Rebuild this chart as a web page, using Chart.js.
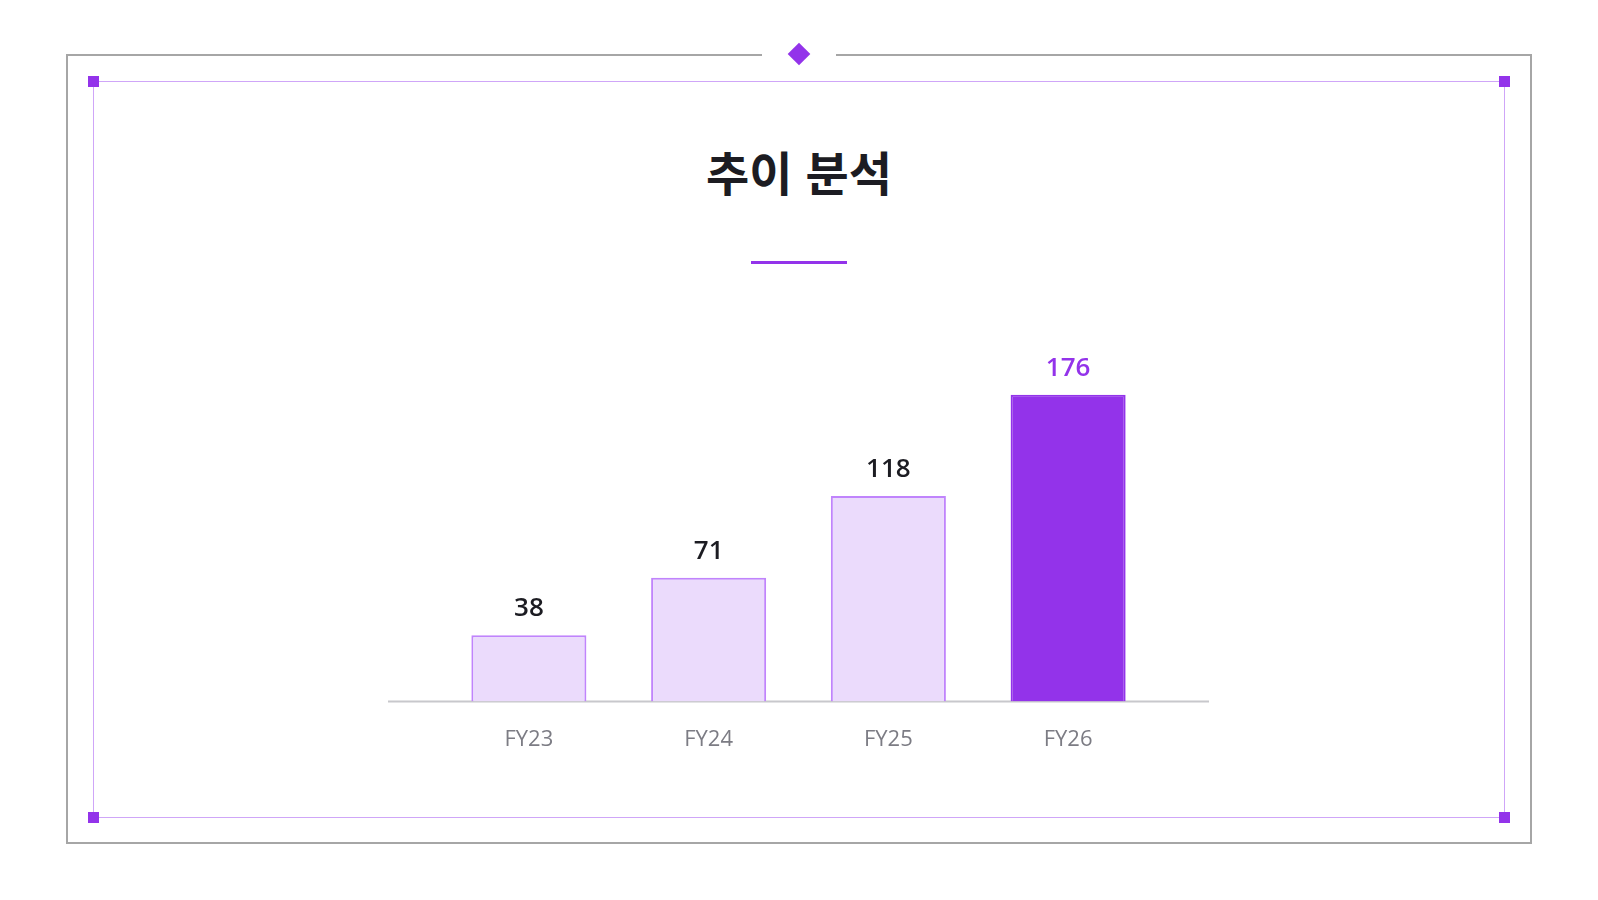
<!DOCTYPE html>
<html lang="ko">
<head>
  <meta charset="UTF-8">
  <title>추이 분석</title>
  <style>
    body { margin: 0; background: #fff; font-family: "Noto Sans CJK KR", "Noto Sans", sans-serif; }
    #page { position: relative; width: 1598px; height: 900px; overflow: hidden; }
    .frame { position: absolute; left: 66px; top: 54px; width: 1462px; height: 786px; border: 2px solid #a6a6a6; }
    .inner { position: absolute; left: 93px; top: 81px; width: 1410px; height: 735px; border: 1px solid #cfa6f8; }
    .corner { position: absolute; width: 11px; height: 11px; background: #9333ea; }
    .gap { position: absolute; left: 762px; top: 50px; width: 74px; height: 10px; background: #fff; }
    .diamond { position: absolute; left: 791px; top: 46px; width: 16px; height: 16px; background: #9333ea; transform: rotate(45deg); }
    h1 { position: absolute; left: 0; top: 147px; width: 1598px; margin: 0; text-align: center;
         font-size: 47px; line-height: 47px; font-weight: 700; color: #1c1c22; }
    .accent { position: absolute; left: 751px; top: 261px; width: 96px; height: 3px; background: #9333ea; }
    #trend-chart { position: absolute; left: 0; top: 0; }
  </style>
</head>
<body>
  <div id="page">
    <div class="frame"></div>
    <div class="inner"></div>
    <div class="corner" style="left:88px;top:76px"></div>
    <div class="corner" style="left:1499px;top:76px"></div>
    <div class="corner" style="left:88px;top:812px"></div>
    <div class="corner" style="left:1499px;top:812px"></div>
    <div class="gap"></div>
    <div class="diamond"></div>
    <h1>추이 분석</h1>
    <div class="accent"></div>
    <canvas id="trend-chart" width="1598" height="900"></canvas>
  </div>

  <script src="https://cdn.jsdelivr.net/npm/chart.js"></script>
  <script>
    const years = ['FY23', 'FY24', 'FY25', 'FY26'];
    const values = [38, 71, 118, 176];
    const highlightIndex = 3;

    const purple = '#9333ea';
    const lightFill = '#ebdbfc';
    const lightBorder = '#c084fc';

    // baseline, a bit wider than the bars area
    const baseline = {
      id: 'baseline',
      beforeDatasetsDraw(chart) {
        const { ctx, chartArea } = chart;
        ctx.save();
        ctx.strokeStyle = '#c8c8cc';
        ctx.lineWidth = 2;
        ctx.beginPath();
        ctx.moveTo(chartArea.left - 51, chartArea.bottom);
        ctx.lineTo(chartArea.right + 51, chartArea.bottom);
        ctx.stroke();
        ctx.restore();
      }
    };

    // value labels above bars
    const valueLabels = {
      id: 'valueLabels',
      afterDatasetsDraw(chart) {
        const { ctx } = chart;
        const meta = chart.getDatasetMeta(0);
        ctx.save();
        ctx.font = '600 26px "Open Sans", "Noto Sans", sans-serif';
        ctx.textAlign = 'center';
        ctx.textBaseline = 'alphabetic';
        meta.data.forEach((bar, i) => {
          ctx.fillStyle = i === highlightIndex ? purple : '#1c1c22';
          ctx.fillText(String(values[i]), bar.x, bar.y - 19);
        });
        ctx.restore();
      }
    };

    const ctx = document.getElementById('trend-chart').getContext('2d');
    new Chart(ctx, {
      type: 'bar',
      data: {
        labels: years,
        datasets: [{
          data: values,
          backgroundColor: values.map((v, i) => i === highlightIndex ? purple : lightFill),
          borderColor: values.map((v, i) => i === highlightIndex ? purple : lightBorder),
          borderWidth: 2,
          borderSkipped: 'bottom',
          categoryPercentage: 1,
          barPercentage: 0.64
        }]
      },
      options: {
        responsive: false,
        animation: false,
        layout: { padding: { left: 439, right: 440, top: 353, bottom: 122 } },
        plugins: { legend: { display: false }, tooltip: { enabled: false } },
        scales: {
          x: {
            grid: { display: false, drawTicks: false },
            border: { display: false },
            ticks: {
              color: '#7c7c84',
              padding: 25,
              font: { family: '"Open Sans", "Noto Sans", sans-serif', size: 22 }
            }
          },
          y: { display: false, min: 0, max: 200 }
        }
      },
      plugins: [baseline, valueLabels]
    });
  </script>
</body>
</html>
